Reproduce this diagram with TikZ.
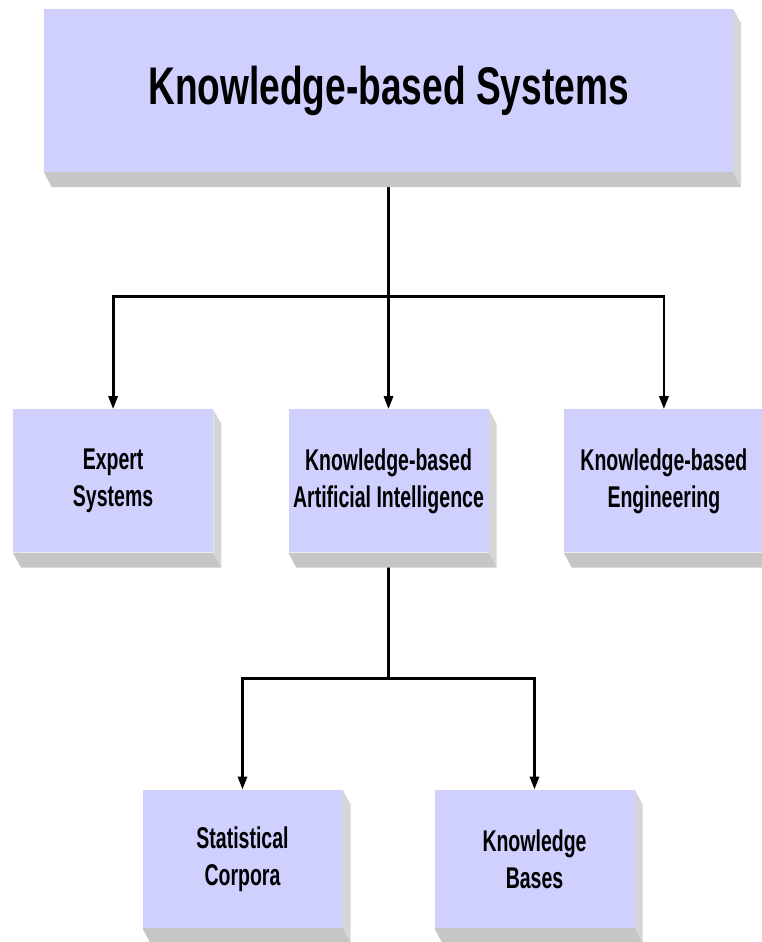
\documentclass[tikz,border=0pt]{standalone}
\usepackage{fontspec}
\setmainfont{Liberation Sans}
\newfontfamily\narrowfont{Liberation Sans}[FakeStretch=0.7]
\newfontfamily\boxfont{Liberation Sans}[FakeStretch=0.65]
\usepackage{tikz}
\usetikzlibrary{arrows.meta,positioning,calc,backgrounds}

\definecolor{kbsfill}{RGB}{208,208,255}
\definecolor{sidegray}{RGB}{214,214,214}
\definecolor{basegray}{RGB}{198,198,198}

\begin{document}
\begin{tikzpicture}[
    x=1pt, y=-1pt,
    node distance=237pt and 75pt,
    topbox/.style={fill=kbsfill, minimum width=689pt, minimum height=163pt, inner sep=0pt, font=\narrowfont\bfseries\fontsize{53}{60}\selectfont},
    kbsbox/.style={fill=kbsfill, minimum width=200pt, minimum height=143pt, inner sep=0pt, align=center, font=\boxfont\bfseries\fontsize{30}{37}\selectfont},
    myedge/.style={-{Triangle[length=13pt,width=9pt]}, line width=2.8pt},
    myline/.style={line width=2.8pt}
]
\useasboundingbox (0,0) rectangle (761,942);

\node[topbox] (kbs) at (388.5,90.5) {Knowledge-based Systems};
\node[kbsbox] (ai) [below=of kbs] {Knowledge-based\\Artificial Intelligence};
\node[kbsbox] (expert) [left=of ai] {Expert\\Systems};
\node[kbsbox] (eng) [right=of ai] {Knowledge-based\\Engineering};
\node[kbsbox, minimum height=138pt] (stat) [below=of ai, xshift=-146pt] {Statistical\\Corpora};
\node[kbsbox, minimum height=138pt] (kb) [below=of ai, xshift=146pt] {Knowledge\\Bases};

\begin{scope}[on background layer]
% connectors
\coordinate (fork1) at ($(kbs.south)+(0,124)$);
\draw[myedge] (kbs.south) -- (ai.north);
\draw[myedge] (fork1) -| (expert.north);
\draw[myedge] (fork1) -| (eng.north);
\coordinate (fork2) at ($(ai.south)+(0,126)$);
\draw[myline] (ai.south) -- (fork2);
\draw[myedge] (fork2) -| (stat.north);
\draw[myedge] (fork2) -| (kb.north);
% 3d shadows
\foreach \n in {kbs,expert,ai,eng,stat,kb} {
  \fill[sidegray] (\n.north east) -- ++(8,15) -- ($(\n.south east)+(8,15)$) -- (\n.south east) -- cycle;
  \fill[basegray] (\n.south west) -- (\n.south east) -- ($(\n.south east)+(8,15)$) -- ($(\n.south west)+(8,15)$) -- cycle;
}
\end{scope}
\end{tikzpicture}
\end{document}
